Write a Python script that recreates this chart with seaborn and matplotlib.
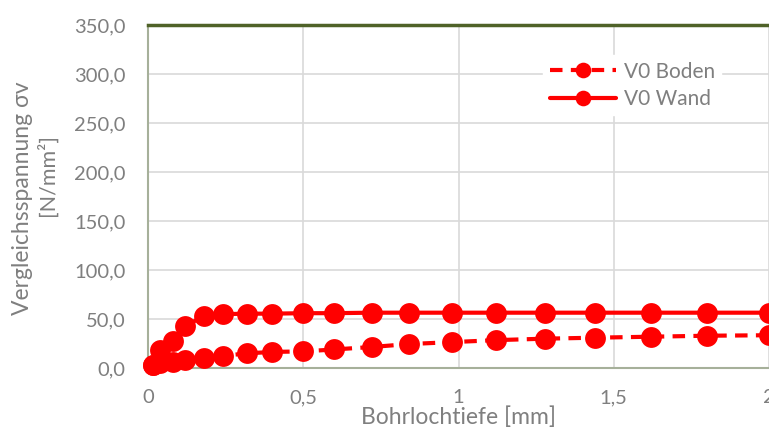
import matplotlib
matplotlib.use("Agg")
import matplotlib.pyplot as plt
import seaborn as sns
import pandas as pd

depth = [0.016, 0.04, 0.08, 0.12, 0.18, 0.24, 0.32, 0.40, 0.50, 0.60, 0.72, 0.84,
         0.98, 1.12, 1.28, 1.44, 1.62, 1.80, 2.00]
boden = [3, 5, 6.5, 8.5, 10.5, 12.5, 15, 16.5, 17, 19, 21.5, 24.5,
         26.5, 28.5, 30, 31, 32, 33, 33.5]
wand = [3, 18, 28, 43, 53, 55, 55.5, 55.5, 56, 56, 56.5, 56.5,
        56.5, 56.5, 56.5, 56.5, 56.5, 56.5, 56.5]
series_names = ["V0 Boden", "V0 Wand"]
y_ticks = [0, 50, 100, 150, 200, 250, 300, 350]
x_ticks = [0, 0.5, 1, 1.5, 2]

sns.set_theme(style="white")
plt.rcParams['font.family'] = ['Lato', 'DejaVu Sans']

df = pd.DataFrame({
    "x": depth * 2,
    "y": boden + wand,
    "series": [series_names[0]] * len(depth) + [series_names[1]] * len(depth),
})

fig = plt.figure(figsize=(7.69, 4.30), dpi=100)
ax = fig.add_axes([0.1925, 0.144, 0.8075, 0.798])

red = "#FF0000"
grey = "#7f7f7f"
ax.grid(True, color="#d9d9d9", linewidth=1.2)
ax.set_axisbelow(True)

sns.lineplot(data=df[df.series == series_names[0]], x="x", y="y", ax=ax,
             color=red, linewidth=3, marker="o", markersize=15, markeredgewidth=0,
             linestyle=(0, (3, 2)), label=series_names[0], clip_on=False, zorder=3)
sns.lineplot(data=df[df.series == series_names[1]], x="x", y="y", ax=ax,
             color=red, linewidth=3, marker="o", markersize=15, markeredgewidth=0,
             linestyle="-", label=series_names[1], clip_on=False, zorder=3)

ax.set_xlim(0, 2)
ax.set_ylim(0, 350)
ax.set_yticks(y_ticks)
ax.set_yticklabels([f"{v:.1f}".replace(".", ",") for v in y_ticks])
ax.set_xticks(x_ticks)
ax.set_xticklabels([("%g" % v).replace(".", ",") for v in x_ticks])
ax.xaxis.grid(True)
ax.tick_params(axis="both", colors=grey, labelsize=14.5, length=0)
ax.tick_params(axis="y", pad=16)
ax.tick_params(axis="x", pad=15)

ax.spines["right"].set_visible(False)
ax.spines["top"].set_color("#4f6228")
ax.spines["top"].set_linewidth(2.5)
ax.spines["left"].set_color("#a6b09a")
ax.spines["left"].set_linewidth(1.5)
ax.spines["bottom"].set_color("#a6b09a")
ax.spines["bottom"].set_linewidth(1.5)

ax.set_xlabel("Bohrlochtiefe [mm]", color=grey, fontsize=16.5, labelpad=0)
ax.set_ylabel("")
fig.text(23 / 769, 1 - 198 / 430, "Vergleichsspannung σv", rotation=90, color=grey,
         fontsize=16.5, ha="center", va="center")
fig.text(47 / 769, 1 - 175 / 430, "[N/mm²]", rotation=90, color=grey,
         fontsize=15.5, ha="center", va="center")

leg = ax.legend(loc="upper left", bbox_to_anchor=(0.62, 0.942), frameon=True,
                fontsize=15, handlelength=3.2, markerscale=0.75, borderpad=0.3,
                labelspacing=0.35, handletextpad=0.35)
leg.get_frame().set_facecolor("white")
leg.get_frame().set_edgecolor("white")
leg.get_frame().set_alpha(1)
for t in leg.get_texts():
    t.set_color(grey)

fig.savefig("out.png", dpi=100)
